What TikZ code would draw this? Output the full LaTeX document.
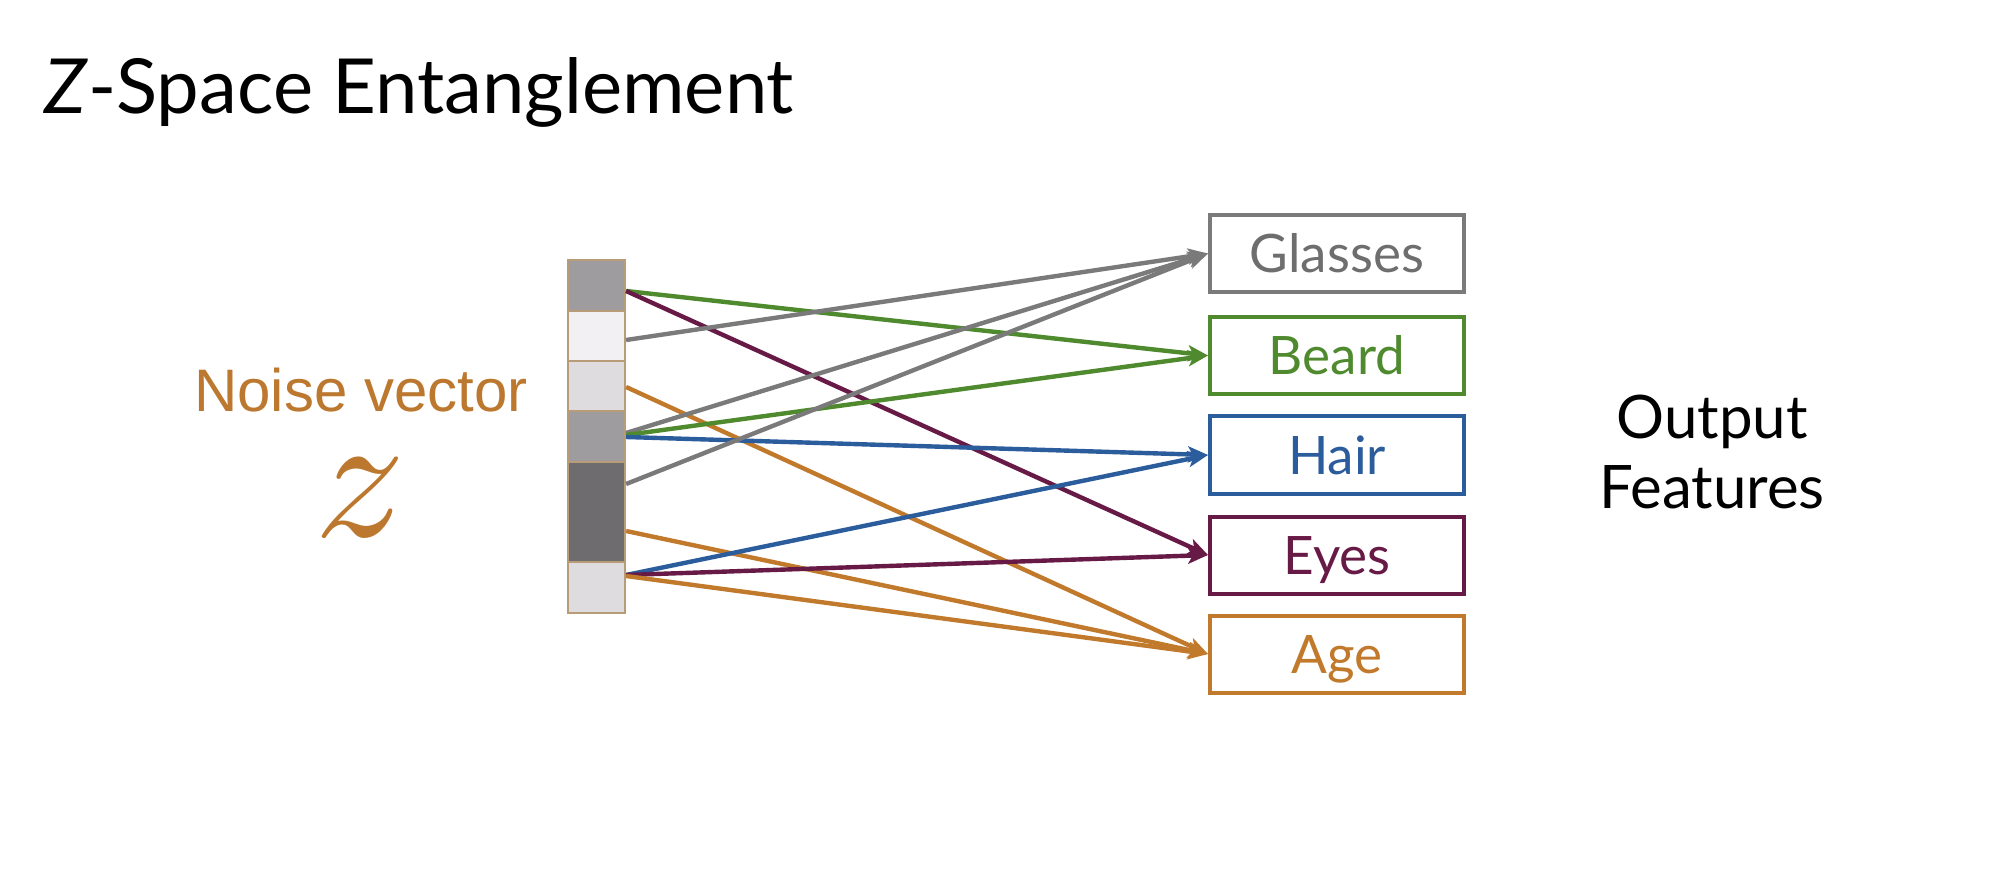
\documentclass[tikz,border=0pt]{standalone}
\usepackage{fontspec}
\setmainfont{Lato}
\newfontfamily\arialfont{Liberation Sans}
\usetikzlibrary{arrows.meta}
\definecolor{cgray}{HTML}{7A7A7A}
\definecolor{cgraytext}{HTML}{6E6E6E}
\definecolor{cgreen}{HTML}{4F8A2E}
\definecolor{cblue}{HTML}{2B5C9C}
\definecolor{cpurple}{HTML}{661A45}
\definecolor{corange}{HTML}{C17A2C}
\definecolor{cnoise}{HTML}{BC782E}
\definecolor{ctan}{HTML}{B89C78}
\definecolor{cellA}{HTML}{9E9C9E}
\definecolor{cellB}{HTML}{F2F0F2}
\definecolor{cellC}{HTML}{DEDCDE}
\definecolor{cellD}{HTML}{6E6C6E}
\begin{document}
\begin{tikzpicture}[x=0.5pt,y=-0.5pt,
  cellbox/.style={draw=ctan, line width=1.1pt, minimum width=28.5pt, inner sep=0pt},
  featbox/.style={draw, line width=2pt, minimum width=127pt, minimum height=38.5pt,
    inner sep=0pt, text height=19pt, text depth=0pt,
    font=\fontsize{26.5}{30}\selectfont},
  conn/.style={line width=2.2pt, -{Stealth[length=10pt, width=8pt, inset=2.4pt]}}]
\fill[white] (0,0) rectangle (2000,881);
\useasboundingbox (0,0) rectangle (2000,881);

% title
\node[anchor=base west, inner sep=0pt, font=\fontsize{38}{44}\selectfont] (title) at (44,114) {\textit{Z}-Space Entanglement};

% noise vector label
\node[anchor=base, inner sep=0pt, text depth=0pt, text=cnoise, font=\arialfont\fontsize{30}{34}\selectfont] (noise) at (361,412) {Noise vector};
\node[scale=9, text=cnoise, inner sep=0pt] (zsym) at (360,498) {$z$};

% vector cells
\node[cellbox, fill=cellA, minimum height=25.5pt] (c1) at (596.5,285.5) {};
\node[cellbox, fill=cellB, minimum height=25pt] (c2) at (596.5,336) {};
\node[cellbox, fill=cellC, minimum height=25pt] (c3) at (596.5,386) {};
\node[cellbox, fill=cellA, minimum height=25.5pt] (c4) at (596.5,436.5) {};
\node[cellbox, fill=cellD, minimum height=50pt] (c5) at (596.5,512) {};
\node[cellbox, fill=cellC, minimum height=25.5pt] (c6) at (596.5,587.5) {};

% feature boxes
\node[featbox, draw=cgray, text=cgraytext] (glasses) at (1337,253.5) {Glasses};
\node[featbox, draw=cgreen, text=cgreen] (beard) at (1337,355.5) {Beard};
\node[featbox, draw=cblue, text=cblue] (hair) at (1337,455) {Hair};
\node[featbox, draw=cpurple, text=cpurple] (eyes) at (1337,555) {Eyes};
\node[featbox, draw=corange, text=corange] (age) at (1337,654) {Age};

% output features
\node[align=center, inner sep=0pt, font=\fontsize{30}{35}\selectfont] (out) at (1712,452) {Output\\Features};

% connectors
\draw[conn, cgreen] ([yshift=-2.75pt]c1.east) -- (beard.west);
\draw[conn, cpurple] ([yshift=-2.75pt]c1.east) -- (eyes.west);
\draw[conn, cgray] ([yshift=-2pt]c2.east) -- (glasses.west);
\draw[conn, corange] ([yshift=-0.5pt]c3.east) -- (age.west);
\draw[conn, cgray] ([yshift=1.75pt]c4.east) -- (glasses.west);
\draw[conn, cgreen] ([yshift=0.75pt]c4.east) -- (beard.west);
\draw[conn, cblue] ([yshift=-0.25pt]c4.east) -- (hair.west);
\draw[conn, cgray] ([yshift=14pt]c5.east) -- (glasses.west);
\draw[conn, corange] ([yshift=-9.5pt]c5.east) -- (age.west);
\draw[conn, cblue] ([yshift=6.25pt]c6.east) -- (hair.west);
\draw[conn, cpurple] ([yshift=6.25pt]c6.east) -- (eyes.west);
\draw[conn, corange] ([yshift=5.75pt]c6.east) -- (age.west);
\end{tikzpicture}
\end{document}
